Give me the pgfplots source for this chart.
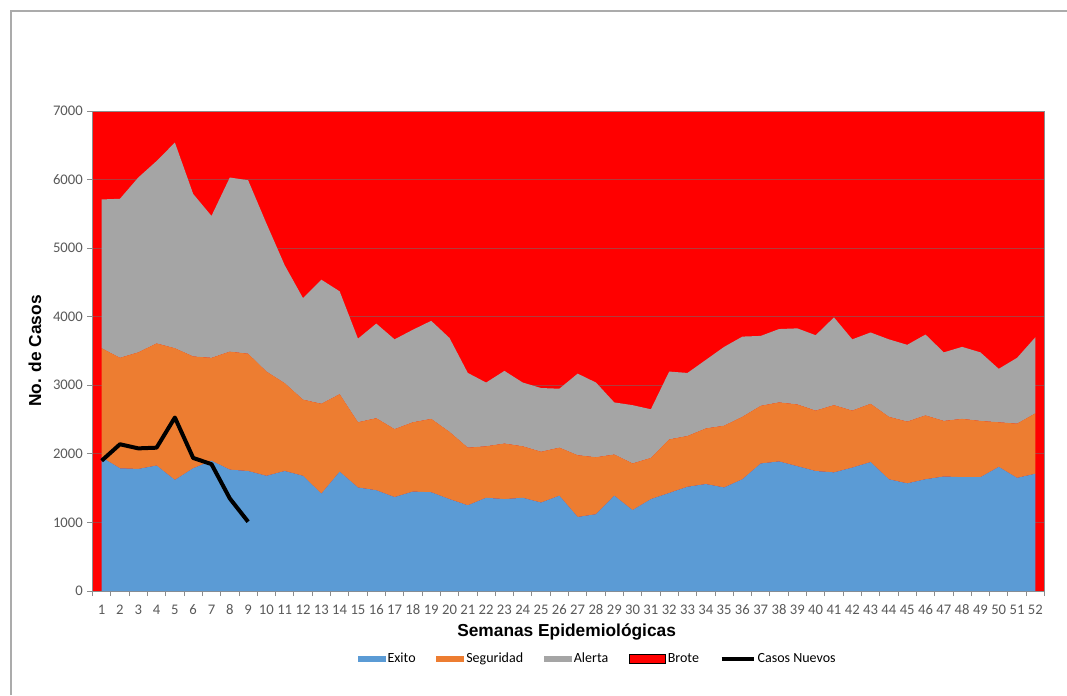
\documentclass[border=0pt]{standalone}
\usepackage{pgfplots}
\pgfplotsset{compat=1.18}
\usepackage{pgfplotstable}
\usepackage{fontspec}
\setmainfont{Carlito}
\setsansfont{Liberation Sans}

\definecolor{exito}{HTML}{5B9BD5}
\definecolor{seguridad}{HTML}{ED7D31}
\definecolor{alerta}{HTML}{A5A5A5}
\definecolor{brote}{HTML}{FF0000}
\definecolor{ticklab}{HTML}{595959}
\definecolor{axisgray}{HTML}{8C8C8C}
\definecolor{framegray}{HTML}{ABABAB}
\definecolor{gridred}{HTML}{B03C3C}

% Canal endémico: valores de cada zona por semana (se apilan)
\pgfplotstableread{
semana exito seguridad alerta
1  1950 1590 2170
2  1790 1610 2320
3  1780 1700 2550
4  1830 1780 2660
5  1620 1920 3000
6  1790 1630 2370
7  1900 1500 2070
8  1770 1720 2540
9  1750 1710 2530
10 1680 1520 2160
11 1750 1280 1720
12 1680 1110 1480
13 1420 1310 1810
14 1740 1130 1500
15 1510  950 1220
16 1470 1050 1380
17 1370  990 1310
18 1450 1010 1350
19 1440 1070 1430
20 1340  980 1370
21 1250  840 1090
22 1360  750  930
23 1340  810 1060
24 1360  750  930
25 1290  740  930
26 1390  700  860
27 1080  900 1190
28 1120  830 1090
29 1390  600  760
30 1180  680  850
31 1340  600  710
32 1430  780  990
33 1520  740  920
34 1560  810 1000
35 1510  900 1150
36 1630  910 1170
37 1860  840 1020
38 1890  860 1070
39 1820  900 1110
40 1750  880 1100
41 1730  980 1280
42 1800  830 1040
43 1880  850 1040
44 1630  910 1130
45 1570  900 1120
46 1630  930 1180
47 1670  810 1000
48 1660  850 1050
49 1660  820 1000
50 1810  650  780
51 1650  790  960
52 1710  880 1110
}\canal

% Casos nuevos notificados
\pgfplotstableread{
semana casos
1 1900
2 2140
3 2080
4 2090
5 2530
6 1940
7 1850
8 1350
9 1010
}\casos

\pgfplotsset{
  canal frame/.style={
    scale only axis,
    width=714pt, height=360pt,
    xmin=0.5, xmax=52.5,
    ymin=0, ymax=7000,
  },
}

\begin{document}
\begin{tikzpicture}
\begin{axis}[
  canal frame,
  stack plots=y,
  axis background/.style={fill=brote},
  axis line style={draw=axisgray, line width=0.6pt},
  ymajorgrids,
  major grid style={draw=gridred, line width=0.7pt},
  tick align=outside,
  xtick pos=bottom, ytick pos=left,
  major tick length=3.75pt,
  tick style={draw=axisgray, line width=0.6pt},
  xtick={0.5,1.5,...,52.5},
  xticklabels={},
  extra x ticks={1,2,...,52},
  extra x tick labels={1,2,3,4,5,6,7,8,9,10,11,12,13,14,15,16,17,18,19,20,21,22,23,24,25,26,27,28,29,30,31,32,33,34,35,36,37,38,39,40,41,42,43,44,45,46,47,48,49,50,51,52},
  extra x tick style={tick style={draw=none}, grid=none},
  ytick={0,1000,...,7000},
  /pgf/number format/1000 sep={},
  /pgf/number format/assume math mode=true,
  tick label style={font=\fontsize{11}{13}\selectfont, text=ticklab},
  xticklabel style={yshift=-3pt},
  xlabel={Semanas Epidemiológicas},
  ylabel={No. de Casos},
  every axis x label/.style={at={(axis description cs:0.498,-0.0854)}, anchor=center,
    font=\sffamily\bfseries\fontsize{13}{15}\selectfont},
  every axis y label/.style={at={(axis description cs:-0.0606,0.5)}, anchor=center, rotate=90,
    font=\sffamily\bfseries\fontsize{13}{15}\selectfont},
  legend columns=-1,
  legend style={at={(axis description cs:0.5306,-0.1417)}, anchor=center,
    draw=none, fill=none, font=\fontsize{10.5}{12}\selectfont,
    nodes={inner sep=1.5pt},
    /tikz/every even column/.append style={column sep=14pt}},
  legend cell align=left,
]
\coordinate (sw) at (rel axis cs:0,0);
\coordinate (ne) at (rel axis cs:1,1);

\addplot[fill=exito, draw=none,
  legend image code/.code={\fill[exito] (0pt,-2.25pt) rectangle (21pt,2.25pt);}]
  table[x=semana, y=exito]{\canal} \closedcycle;
\addlegendentry{Exito}
\addplot[fill=seguridad, draw=none,
  legend image code/.code={\fill[seguridad] (0pt,-2.25pt) rectangle (21pt,2.25pt);}]
  table[x=semana, y=seguridad]{\canal} \closedcycle;
\addlegendentry{Seguridad}
\addplot[fill=alerta, draw=none,
  legend image code/.code={\fill[alerta] (0pt,-2.25pt) rectangle (21pt,2.25pt);}]
  table[x=semana, y=alerta]{\canal} \closedcycle;
\addlegendentry{Alerta}
\addlegendimage{legend image code/.code={\draw[black, fill=brote, line width=0.7pt] (0pt,-3.3pt) rectangle (27pt,3.3pt);}}
\addlegendentry{Brote}
\addlegendimage{legend image code/.code={\draw[black, line width=3pt] (0pt,0pt) -- (24pt,0pt);}}
\addlegendentry{Casos Nuevos}
\end{axis}

% Casos nuevos, sin apilar, sobre el mismo marco
\begin{axis}[
  canal frame,
  axis lines=none,
  ticks=none,
]
\addplot[black, line width=3pt, line join=round, mark=none]
  table[x=semana, y=casos]{\casos};
\end{axis}

\pgfresetboundingbox
\useasboundingbox ([xshift=-69.375pt,yshift=-78pt]sw) rectangle ([xshift=16.875pt,yshift=83.25pt]ne);
\draw[framegray, line width=0.8pt] ([xshift=-61.125pt,yshift=-78pt]sw) |- ([xshift=16.875pt,yshift=75pt]ne);
\end{tikzpicture}
\end{document}
